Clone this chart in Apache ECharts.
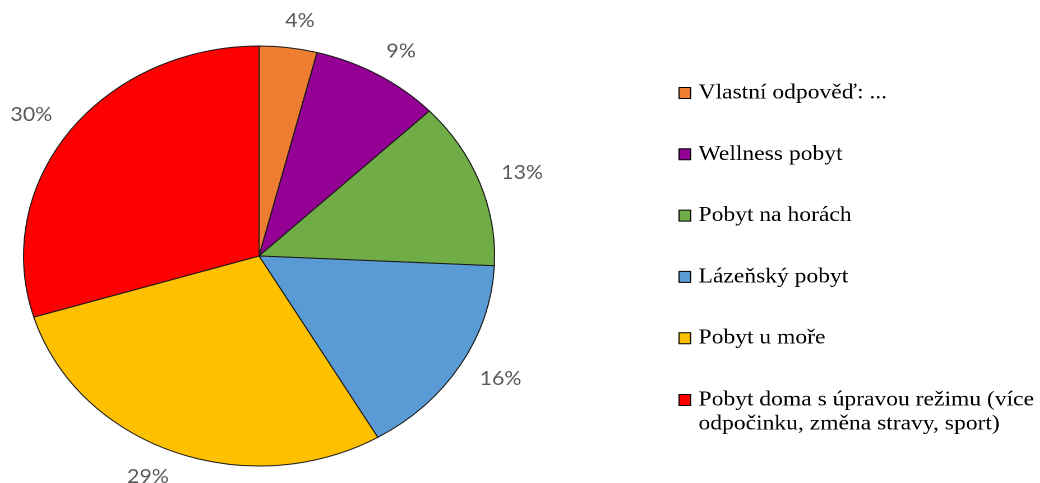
<!DOCTYPE html>
<html>
<head>
<meta charset="utf-8">
<script src="https://cdn.jsdelivr.net/npm/echarts@6/dist/echarts.min.js"></script>
<style>
  html, body { margin: 0; padding: 0; background: #ffffff; overflow: hidden; }
  #wrap { width: 1040px; height: 483px; overflow: hidden; }
  #chart { width: 927px; height: 483px; transform: scaleX(1.1214); transform-origin: 0 0; }
</style>
</head>
<body>
<div id="wrap"><div id="chart"></div></div>
<script>
// Data
const categories = [
  'Vlastní odpověď: ...',
  'Wellness pobyt',
  'Pobyt na horách',
  'Lázeňský pobyt',
  'Pobyt u moře',
  'Pobyt doma s úpravou režimu (více\nodpočinku, změna stravy, sport)'
];
const shares = [4, 9, 13, 16, 29, 30];
const colors = ['#ED7D31', '#930093', '#70AD47', '#5B9BD5', '#FFC000', '#FF0000'];

const seriesData = categories.map((name, i) => ({
  name: name,
  value: shares[i],
  itemStyle: { color: colors[i] }
}));

const legendText = {
  fontFamily: 'Liberation Serif',
  fontSize: 21,
  lineHeight: 24,
  color: '#000000',
  padding: [0, 0, 0, 2]
};

const chart = echarts.init(document.getElementById('chart'), null, { renderer: 'canvas', devicePixelRatio: 2 });
chart.setOption({
  animation: false,
  backgroundColor: '#ffffff',
  legend: [
    {
      orient: 'vertical',
      left: 605,
      top: 81,
      padding: 0,
      itemGap: 37.3,
      itemWidth: 10.4,
      itemHeight: 11,
      icon: 'rect',
      itemStyle: { borderColor: '#000000', borderWidth: 1 },
      selectedMode: false,
      data: categories.slice(0, 5),
      textStyle: legendText
    },
    {
      orient: 'vertical',
      left: 605,
      top: 364,
      padding: 0,
      itemWidth: 10.4,
      itemHeight: 11,
      icon: 'rect',
      itemStyle: { borderColor: '#000000', borderWidth: 1 },
      selectedMode: false,
      data: categories.slice(5),
      // leading empty line keeps the first text line level with the marker
      formatter: function (name) { return '\n' + name; },
      textStyle: legendText
    }
  ],
  series: [{
    type: 'pie',
    center: [231, 256],
    radius: 210,
    startAngle: 90,
    clockwise: true,
    avoidLabelOverlap: false,
    emphasis: { disabled: true },
    itemStyle: { borderColor: '#1a1a1a', borderWidth: 1 },
    label: {
      show: true,
      position: 'outside',
      formatter: '{c}%',
      color: '#595959',
      fontFamily: 'Lato',
      fontSize: 19,
      distanceToLabelLine: -6
    },
    labelLine: { show: false, length: 27, length2: 0 },
    data: seriesData
  }]
});
</script>
</body>
</html>
